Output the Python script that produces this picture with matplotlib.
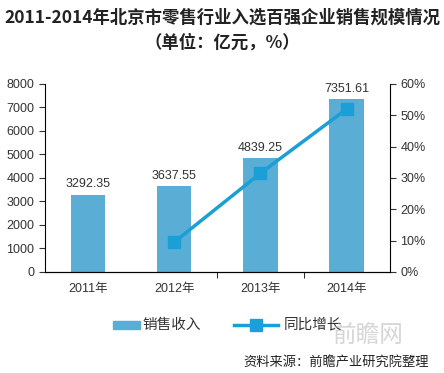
import matplotlib.pyplot as plt
import numpy as np
from matplotlib.ticker import FixedLocator, FuncFormatter

plt.rcParams['font.family'] = ['Liberation Sans', 'Noto Sans CJK SC', 'DejaVu Sans']

years = ["2011年", "2012年", "2013年", "2014年"]
sales = [3292.35, 3637.55, 4839.25, 7351.61]
growth_years = [1, 2, 3]
growth = [9.5, 31.5, 52.0]

barColor = "#5aadd5"
lineColor = "#1a9fd6"
textColor = "#333333"
cjk = ['Noto Sans CJK SC', 'DejaVu Sans']

fig = plt.figure(figsize=(4.44, 3.73), dpi=100)
ax = fig.add_axes([0.101, 0.271, 0.777, 0.504])
x = np.arange(len(years))

ax.bar(x, sales, width=0.4, color=barColor, zorder=2)
for i, v in enumerate(sales):
    ax.text(i, v + 180, "%.2f" % v, ha="center", va="bottom", fontsize=9, color=textColor)

ax.set_ylim(0, 8000)
ax.set_xlim(-0.5, 3.5)
ax.set_yticks(range(0, 8001, 1000))
ax.set_xticks(x)
ax.set_xticklabels(years)
ax.xaxis.set_minor_locator(FixedLocator([1.5, 2.5]))
ax.tick_params(axis="x", which="major", length=0, pad=8, labelsize=9, colors=textColor)
ax.tick_params(axis="x", which="minor", length=4, direction="out")
ax.tick_params(axis="y", labelsize=9, colors=textColor, length=4)
ax.spines["top"].set_visible(False)
ax.spines["right"].set_visible(False)

ax2 = ax.twinx()
ax2.plot(growth_years, growth, color=lineColor, linewidth=2.5, marker="s",
         markersize=8, zorder=3)
ax2.set_ylim(0, 60)
ax2.set_yticks(range(0, 61, 10))
ax2.yaxis.set_major_formatter(FuncFormatter(lambda v, p: "%d%%" % v))
ax2.tick_params(axis="y", labelsize=9, colors=textColor, length=4)
ax2.spines["top"].set_visible(False)
ax2.spines["left"].set_visible(False)

fig.text(0.5, 0.952, "2011-2014年北京市零售行业入选百强企业销售规模情况",
         ha="center", va="center", fontsize=12.5, fontweight="bold", color="#222222",
         family=cjk)
fig.text(0.5, 0.885, "（单位：亿元，%）", ha="center", va="center",
         fontsize=12.5, fontweight="bold", color="#222222", family=cjk)

# legend
fig.patches.append(plt.Rectangle((0.255, 0.118), 0.06, 0.022, transform=fig.transFigure,
                                 color=barColor))
fig.text(0.322, 0.129, "销售收入", ha="left", va="center", fontsize=10.5,
         color=textColor, family=cjk)
fig.lines.append(plt.Line2D([0.527, 0.576, 0.625], [0.129, 0.129, 0.129],
                            transform=fig.transFigure, color=lineColor, linewidth=2.5,
                            marker="s", markersize=8, markevery=[1]))
fig.text(0.64, 0.129, "同比增长", ha="left", va="center", fontsize=10.5,
         color=textColor, family=cjk)

fig.text(0.83, 0.1, "前瞻网", ha="center", va="center", fontsize=17,
         color="#bbbbbb", alpha=0.6, family=cjk)
fig.text(0.965, 0.03, "资料来源：前瞻产业研究院整理", ha="right", va="center",
         fontsize=9.5, color="#222222", family=cjk)

fig.savefig("out.png", dpi=100)
